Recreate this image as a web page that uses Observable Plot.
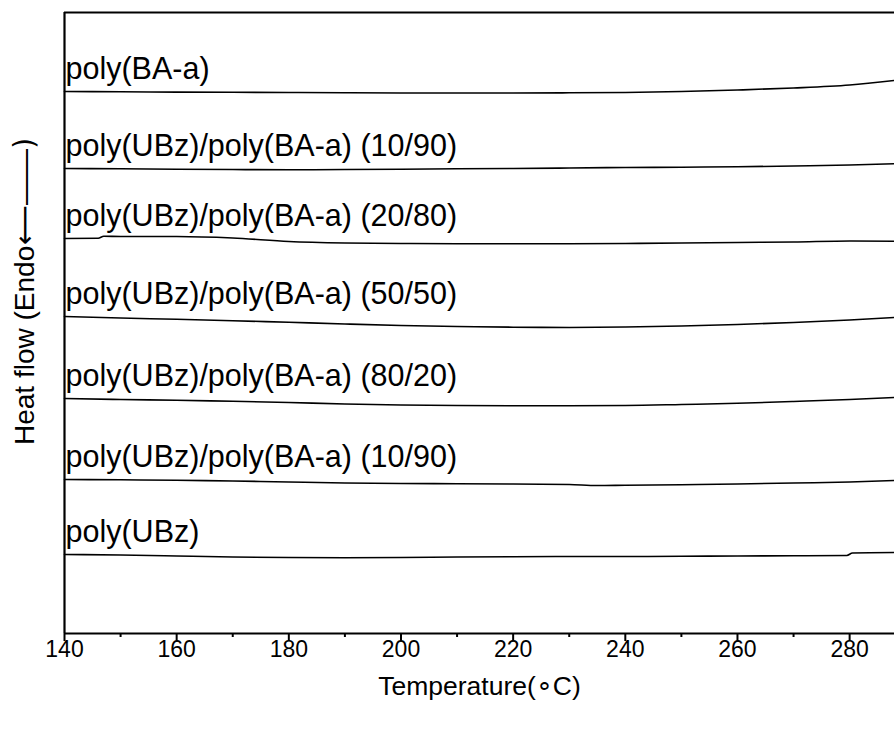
<!DOCTYPE html>
<html>
<head>
<meta charset="utf-8">
<script src="https://cdn.jsdelivr.net/npm/d3@7"></script>
<script src="https://cdn.jsdelivr.net/npm/@observablehq/plot@0.6"></script>
<style>
  html, body { margin: 0; padding: 0; background: #fff; }
  svg { display: block; }
</style>
</head>
<body>
<div id="chart"></div>
<script>
// Temperature sampling (°C)
const temps = [140, 150, 160, 170, 180, 190, 200, 210, 220, 230, 240, 250, 260, 270, 280, 288];

// Heat flow (arbitrary units, vertically offset curves)
const polyBAa   = [54.20, 54.17, 54.14, 54.12, 54.10, 54.07, 54.05, 54.05, 54.05, 54.07, 54.10, 54.20, 54.35, 54.55, 54.85, 55.30];
const ubz10_90a = [46.50, 46.47, 46.43, 46.40, 46.37, 46.40, 46.43, 46.47, 46.50, 46.55, 46.60, 46.63, 46.67, 46.75, 46.85, 46.97];
const ubz20_80T = [140, 146, 147, 150, 160, 170, 180, 190, 200, 210, 220, 230, 240, 250, 260, 270, 280, 288];
const ubz20_80  = [39.50, 39.52, 39.72, 39.70, 39.70, 39.55, 39.20, 39.05, 39.00, 38.97, 38.97, 38.98, 39.00, 39.05, 39.10, 39.15, 39.25, 39.23];
const ubz50_50  = [31.70, 31.55, 31.42, 31.28, 31.12, 30.95, 30.80, 30.70, 30.63, 30.60, 30.65, 30.75, 30.90, 31.10, 31.35, 31.60];
const ubz80_20  = [23.50, 23.40, 23.32, 23.22, 23.10, 22.95, 22.85, 22.80, 22.78, 22.78, 22.80, 22.90, 23.02, 23.20, 23.40, 23.60];
const ubz10_90bT = [140, 150, 160, 170, 180, 190, 200, 210, 220, 230, 235, 240, 250, 260, 270, 280, 288];
const ubz10_90b = [15.40, 15.37, 15.32, 15.25, 15.15, 15.05, 15.00, 14.98, 14.95, 14.90, 14.80, 14.83, 14.88, 14.95, 15.05, 15.15, 15.30];
const polyUBzT  = [140, 150, 160, 170, 180, 190, 200, 210, 220, 230, 240, 250, 260, 270, 279.5, 280.5, 288];
const polyUBz   = [7.90, 7.85, 7.75, 7.65, 7.60, 7.58, 7.60, 7.65, 7.68, 7.70, 7.70, 7.72, 7.75, 7.77, 7.80, 8.05, 8.10];

const seriesNames = [
  "poly(BA-a)",
  "poly(UBz)/poly(BA-a) (10/90)",
  "poly(UBz)/poly(BA-a) (20/80)",
  "poly(UBz)/poly(BA-a) (50/50)",
  "poly(UBz)/poly(BA-a) (80/20)",
  "poly(UBz)/poly(BA-a) (10/90)",
  "poly(UBz)"
];
const seriesT = [temps, temps, ubz20_80T, temps, temps, ubz10_90bT, polyUBzT];
const seriesV = [polyBAa, ubz10_90a, ubz20_80, ubz50_50, ubz80_20, ubz10_90b, polyUBz];

const majorTicks = [140, 160, 180, 200, 220, 240, 260, 280];
const minorTicks = [150, 170, 190, 210, 230, 250, 270];
const xLabel = "Temperature(\u2218C)";
const yLabelMain = "Heat flow (Endo";
const yLabelArrow = "\u27F5\u23AF\u23AF\u23AF\u23AF)";

const data = [];
seriesNames.forEach((name, i) => {
  seriesT[i].forEach((t, j) => data.push({series: i, name, t, v: seriesV[i][j]}));
});
const labels = seriesNames.map((name, i) => ({name, t: seriesT[i][0], v: seriesV[i][0]}));

const font = "Liberation Sans, Arial, sans-serif";

const chart = Plot.plot({
  width: 894,
  height: 733,
  marginLeft: 64,
  marginRight: 0,
  marginTop: 12,
  marginBottom: 100,
  style: {fontFamily: font, color: "#000", background: "#fff"},
  x: {domain: [140, 288]},
  y: {domain: [0, 62.1]},
  marks: [
    Plot.axisX(majorTicks, {tickSize: 8, strokeWidth: 2, tickFormat: () => "", label: null}),
    Plot.axisX(minorTicks, {tickSize: 4, strokeWidth: 2, tickFormat: () => "", label: null}),
    Plot.text(majorTicks, {x: d => d, frameAnchor: "bottom", lineAnchor: "top", dy: 7, text: d => String(d), fontSize: 23, fill: "#000"}),
    Plot.axisY({ticks: [], label: null}),
    Plot.ruleY([0, 62.1], {stroke: "#000", strokeWidth: 2.2}),
    Plot.ruleX([140], {stroke: "#000", strokeWidth: 2.2}),
    Plot.line(data, {x: "t", y: "v", z: "series", stroke: "#000", strokeWidth: 1.6, curve: "monotone-x"}),
    Plot.text(labels, {x: "t", y: "v", text: "name", textAnchor: "start", dx: 1, dy: -22, fontSize: 30.5, fill: "#000"}),
    Plot.text([xLabel], {frameAnchor: "bottom", dy: 61, fontSize: 26.5, fill: "#000"}),
    Plot.text([yLabelMain], {frameAnchor: "left", dx: -39, dy: 122, rotate: -90, textAnchor: "start", fontSize: 28, fill: "#000"}),
    Plot.text([yLabelArrow], {frameAnchor: "left", dx: -39, dy: -78, rotate: -90, textAnchor: "start", fontSize: 28, fill: "#000", fontFamily: "DejaVu Sans, Liberation Sans, sans-serif"})
  ]
});
document.getElementById("chart").appendChild(chart);
</script>
</body>
</html>
